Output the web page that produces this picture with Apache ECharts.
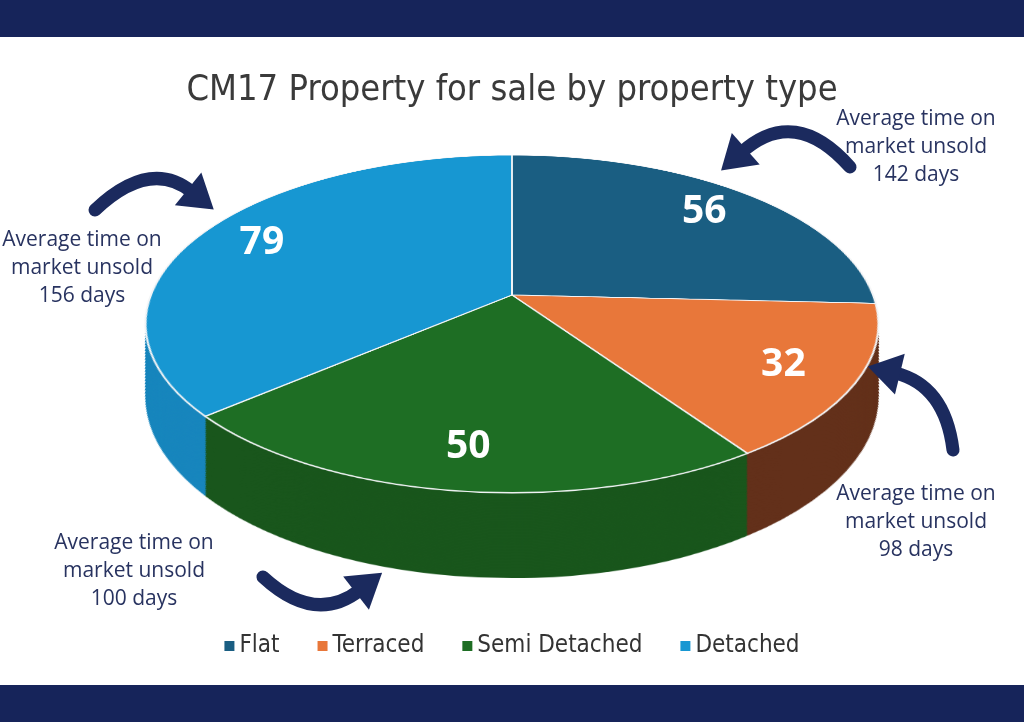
<!DOCTYPE html>
<html>
<head>
<meta charset="utf-8">
<script src="https://cdn.jsdelivr.net/npm/echarts@6/dist/echarts.min.js"></script>
<style>
  html, body { margin: 0; padding: 0; background: #ffffff; }
  #page { position: relative; width: 1024px; height: 722px; overflow: hidden; background: #ffffff; }
  /* the pie is drawn flat, then tilted back in css to get the 3d look */
  #pie { position: absolute; left: 122px; top: -95px; width: 780px; height: 900px;
         transform-origin: 390px 390px; transform: perspective(1874px) rotateX(63deg); }
  #front { position: absolute; left: 0; top: 0; width: 1024px; height: 722px; }
</style>
</head>
<body>
<div id="page">
  <div id="pie"></div>
  <div id="front"></div>
</div>
<script>
var categories = ['Flat', 'Terraced', 'Semi Detached', 'Detached'];
var counts = [56, 32, 50, 79];
var daysUnsold = [142, 98, 100, 156];
var topColors = ['#1a5e82', '#e8773a', '#1e6e24', '#1797d2'];
var sideColors = ['#144a68', '#63301a', '#19561c', '#1886bd'];

// tilt settings, shared by the css above and the label projection below
var P = 1874, TILT = 63 * Math.PI / 180;
var R = 361, DEPTH = 145, LAYERS = 90;
var SHRINK = R * Math.sin(TILT) / P;
var CX = 512, CY = 295;

function sliceData(colors) {
    return categories.map(function (name, i) {
        return { name: name, value: counts[i], itemStyle: { color: colors[i] } };
    });
}

var pieChart = echarts.init(document.getElementById('pie'));
var layers = [];
for (var i = LAYERS; i >= 1; i--) {
    var d = DEPTH * i / LAYERS;
    layers.push({
        type: 'pie', silent: true, startAngle: 90,
        center: [390, 390 + d], radius: R - d * SHRINK,
        label: { show: false }, labelLine: { show: false },
        data: sliceData(sideColors)
    });
}
layers.push({
    type: 'pie', silent: true, startAngle: 90,
    center: [390, 390], radius: R,
    label: { show: false }, labelLine: { show: false },
    itemStyle: { borderColor: '#f2f4f6', borderWidth: 2 },
    data: sliceData(topColors)
});
pieChart.setOption({ animation: false, series: layers });

// front layer: title, legend, value labels, notes and arrows
var navy = '#1b2a5e';

function arrow(x0, y0, cpx, cpy, x1, y1) {
    var dx = x1 - cpx, dy = y1 - cpy, len = Math.sqrt(dx * dx + dy * dy);
    dx /= len; dy /= len;
    var L = 28, W = 21;
    return [
        { type: 'bezierCurve', shape: { x1: x0, y1: y0, cpx1: cpx, cpy1: cpy, x2: x1, y2: y1 },
          style: { stroke: navy, lineWidth: 13, lineCap: 'round', fill: null } },
        { type: 'polygon', shape: { points: [
            [x1 + dx * L, y1 + dy * L],
            [x1 - dy * W - dx * 5, y1 + dx * W - dy * 5],
            [x1 + dy * W - dx * 5, y1 - dx * W - dy * 5]
          ] }, style: { fill: navy } }
    ];
}

var notePos = [[916, 147], [916, 522], [134, 571], [82, 268]];
var graphics = [
    { type: 'rect', shape: { x: 0, y: 0, width: 1024, height: 37 }, style: { fill: '#16245a' } },
    { type: 'rect', shape: { x: 0, y: 685, width: 1024, height: 37 }, style: { fill: '#16245a' } }
];
categories.forEach(function (c, i) {
    graphics.push({
        type: 'text',
        style: {
            text: 'Average time on\nmarket unsold\n' + daysUnsold[i] + ' days',
            x: notePos[i][0], y: notePos[i][1], align: 'center', verticalAlign: 'middle',
            fontSize: 21, fontFamily: 'Open Sans', lineHeight: 28, fill: '#283360'
        }
    });
});
graphics = graphics
    .concat(arrow(850, 167, 795, 105, 742, 152))
    .concat(arrow(95, 210, 150, 158, 192, 192))
    .concat(arrow(263, 577, 315, 625, 360, 590))
    .concat(arrow(953, 450, 945, 385, 895, 373));

var front = echarts.init(document.getElementById('front'));
front.setOption({
    animation: false,
    title: {
        text: 'CM17 Property for sale by property type',
        left: 'center', top: 68,
        textStyle: { fontSize: 36, fontWeight: 'normal', color: '#3a3a3a',
                     fontFamily: 'DejaVu Sans Condensed, sans-serif' }
    },
    legend: {
        data: categories.map(function (name, i) {
            return { name: name, itemStyle: { color: topColors[i] } };
        }),
        top: 629, left: 'center',
        icon: 'rect', itemWidth: 10, itemHeight: 10, itemGap: 38,
        textStyle: { fontSize: 24, color: '#333333',
                     fontFamily: 'DejaVu Sans Condensed, sans-serif' }
    },
    graphic: graphics,
    series: [{
        type: 'pie', silent: true, startAngle: 90,
        center: [CX, CY], radius: [0, 575],
        itemStyle: { color: 'rgba(0,0,0,0)' },
        emphasis: { disabled: true },
        labelLine: { show: false },
        label: {
            show: true, position: 'inside', formatter: '{c}',
            color: '#ffffff', fontSize: 39, fontWeight: 'bold', fontFamily: 'Open Sans'
        },
        // move each label from the flat circle onto the tilted disc
        labelLayout: function (p) {
            var r = p.labelRect;
            var x = r.x + r.width / 2 - CX, y = r.y + r.height / 2 - CY;
            var s = P / (P - y * Math.sin(TILT));
            return { x: CX + x * s, y: CY + y * Math.cos(TILT) * s };
        },
        data: categories.map(function (name, i) { return { name: name, value: counts[i] }; })
    }]
});
</script>
</body>
</html>
